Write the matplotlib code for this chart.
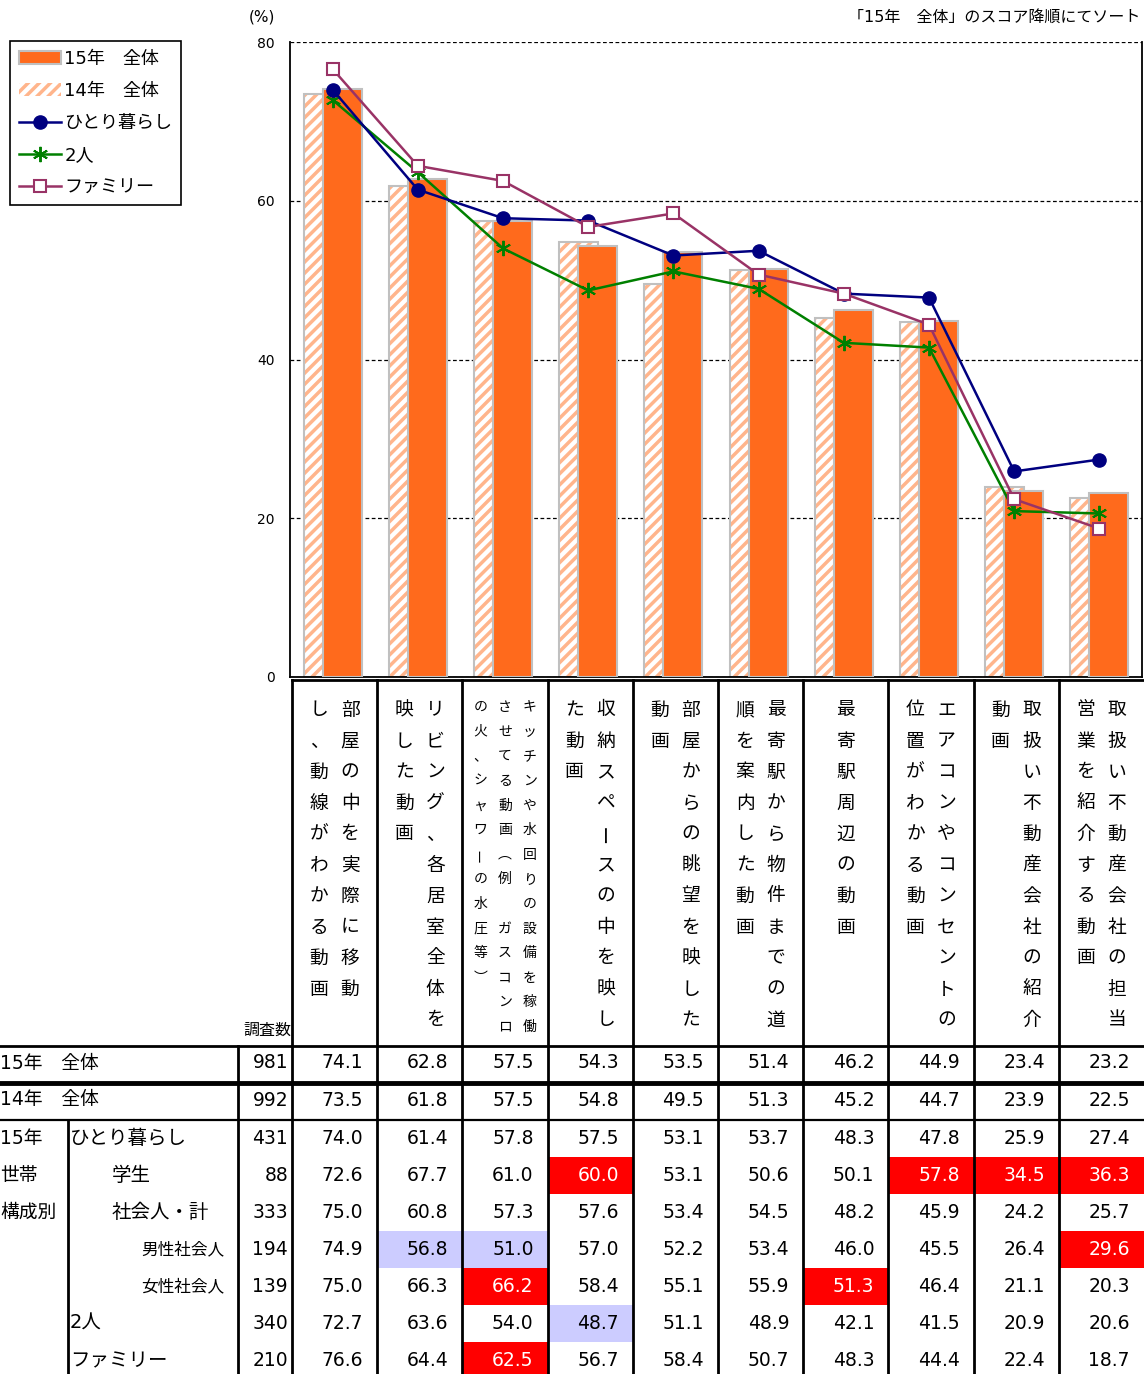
import numpy as np
import matplotlib
matplotlib.use('Agg')
import matplotlib.pyplot as plt
from matplotlib.patches import Rectangle

plt.rcParams['font.family'] = ['DejaVu Sans', 'Noto Sans CJK JP']
plt.rcParams['hatch.linewidth'] = 2.5

# categories (sorted by 15年 全体)
categories = [
    '部屋の中を実際に移動し、動線がわかる動画',
    'リビング、各居室全体を映した動画',
    'キッチンや水回りの設備を稼働させてる動画（例　ガスコンロの火、シャワーの水圧等）',
    '収納スペースの中を映した動画',
    '部屋からの眺望を映した動画',
    '最寄駅から物件までの道順を案内した動画',
    '最寄駅周辺の動画',
    'エアコンやコンセントの位置がわかる動画',
    '取扱い不動産会社の紹介動画',
    '取扱い不動産会社の担当営業を紹介する動画',
]
label_wrap = [10, 11, 14, 11, 11, 11, 11, 11, 11, 11]

all15 = [74.1, 62.8, 57.5, 54.3, 53.5, 51.4, 46.2, 44.9, 23.4, 23.2]
all14 = [73.5, 61.8, 57.5, 54.8, 49.5, 51.3, 45.2, 44.7, 23.9, 22.5]
single = [74.0, 61.4, 57.8, 57.5, 53.1, 53.7, 48.3, 47.8, 25.9, 27.4]
student = [72.6, 67.7, 61.0, 60.0, 53.1, 50.6, 50.1, 57.8, 34.5, 36.3]
worker = [75.0, 60.8, 57.3, 57.6, 53.4, 54.5, 48.2, 45.9, 24.2, 25.7]
male = [74.9, 56.8, 51.0, 57.0, 52.2, 53.4, 46.0, 45.5, 26.4, 29.6]
female = [75.0, 66.3, 66.2, 58.4, 55.1, 55.9, 51.3, 46.4, 21.1, 20.3]
couple = [72.7, 63.6, 54.0, 48.7, 51.1, 48.9, 42.1, 41.5, 20.9, 20.6]
family = [76.6, 64.4, 62.5, 56.7, 58.4, 50.7, 48.3, 44.4, 22.4, 18.7]

row_labels = ['15年　全体', '14年　全体', 'ひとり暮らし', '学生', '社会人・計',
              '男性社会人', '女性社会人', '2人', 'ファミリー']
row_counts = [981, 992, 431, 88, 333, 194, 139, 340, 210]
row_values = [all15, all14, single, student, worker, male, female, couple, family]
group_label = ['15年', '世帯', '構成別']

W, H = 1144, 1374
fig = plt.figure(figsize=(W / 100, H / 100), dpi=100)

# overlay in pixel coordinates for the table
tab = fig.add_axes([0, 0, 1, 1])
tab.set_xlim(0, W)
tab.set_ylim(H, 0)
tab.axis('off')

ax = fig.add_axes([290 / W, 1 - 677 / H, 852 / W, 635 / H])
x = np.arange(len(categories))
off, bw = 0.111, 0.458
b14 = ax.bar(x - off, all14, bw, color='white', edgecolor='#FFB58C', hatch='///',
             linewidth=0, zorder=2, label='14年　全体')
ax.bar(x - off, all14, bw, fill=False, edgecolor='#C0C0C0', linewidth=1.5, zorder=2)
b15 = ax.bar(x + off, all15, bw, color='#FF6A1C', edgecolor='#C0C0C0', linewidth=1.5,
             zorder=3, label='15年　全体')

l2, = ax.plot(x, couple, color='#008000', lw=1.8, marker=(6, 2, 0), ms=11, mew=1.4,
              zorder=4, label='2人')
l1, = ax.plot(x, single, color='#000080', lw=1.8, marker='o', ms=9.5,
              zorder=5, label='ひとり暮らし')
l3, = ax.plot(x, family, color='#993366', lw=1.8, marker='s', ms=9, mfc='white',
              mew=1.5, zorder=6, label='ファミリー')

ax.set_xlim(-0.5, 9.5)
ax.set_ylim(0, 80)
ax.set_yticks([0, 20, 40, 60, 80])
ax.set_xticks([])
ax.tick_params(axis='y', length=0, pad=11, labelsize=10)
ax.yaxis.grid(True, linestyle=(0, (3, 2)), color='black', lw=0.9)
ax.set_axisbelow(True)
ax.spines['top'].set_visible(False)
for s in ['left', 'right', 'bottom']:
    ax.spines[s].set_linewidth(1.3)

leg = ax.legend(handles=[b15, b14, l1, l2, l3], loc='upper left',
                bbox_to_anchor=(10 / W, 1 - 41 / H), bbox_transform=fig.transFigure,
                borderaxespad=0, fontsize=13, fancybox=False, edgecolor='black',
                framealpha=1, handlelength=2.3, handletextpad=0.2,
                labelspacing=0.78, borderpad=0.5)
leg.get_frame().set_linewidth(1.2)

tab.text(262, 17, '(%)', ha='center', va='center', fontsize=11)
tab.text(1140, 17, '「15年　全体」のスコア降順にてソート', ha='right', va='center',
         fontsize=11.5)

# vertical category labels
vert_forms = {'（': '︵', '）': '︶'}
rot_chars = {'ー': 90}
col_w = 85.2
col_edges = 292 + col_w * np.arange(11)
for i, (lab, nwrap) in enumerate(zip(categories, label_wrap)):
    cols = [lab[k:k + nwrap] for k in range(0, len(lab), nwrap)]
    small = len(cols) > 2
    fs = 10 if small else 13.5
    dx = 24.5 if small else 31
    dy = 24.6 if small else 31
    y0 = 707 if small else 710
    cx = col_edges[i] + col_w / 2
    for j, col in enumerate(cols):
        xc = cx + dx * ((len(cols) - 1) / 2 - j)
        for k, ch in enumerate(col):
            tab.text(xc, y0 + dy * k, vert_forms.get(ch, ch), ha='center', va='center',
                     fontsize=fs, rotation=rot_chars.get(ch, 0),
                     family='Noto Sans CJK JP')

tab.text(291, 1030, '調査数', ha='right', va='center', fontsize=11.5)

# table grid
for xe in col_edges[:-1]:
    tab.plot([xe, xe], [680, H], color='black', lw=2.0, zorder=2)
tab.plot([292, W], [680, 680], color='black', lw=2.0, zorder=2)
tab.plot([238, 238], [1046, H], color='black', lw=2.0, zorder=2)
tab.plot([68, 68], [1120, H], color='black', lw=2.0, zorder=2)
tab.plot([0, W], [1046, 1046], color='black', lw=2.0, zorder=2)
tab.plot([0, W], [1083, 1083], color='black', lw=3.5, zorder=2)
tab.plot([0, W], [1120, 1120], color='black', lw=1.6, zorder=2)

row_y = [1063, 1100] + [1138.5 + 37 * k for k in range(7)]
row_x = [0, 0, 70, 112, 112, 224, 224, 70, 70]
row_ha = ['left', 'left', 'left', 'left', 'left', 'right', 'right', 'left', 'left']
row_fs = [13.5, 13.5, 14, 14, 14, 12, 12, 14, 14]

for k, g in enumerate(group_label):
    tab.text(0, row_y[2 + k], g, ha='left', va='center', fontsize=13.5)

for r, (lab, n, vals) in enumerate(zip(row_labels, row_counts, row_values)):
    y = row_y[r]
    tab.text(row_x[r], y, lab, ha=row_ha[r], va='center', fontsize=row_fs[r])
    tab.text(288, y, str(n), ha='right', va='center', fontsize=13.5)
    for i, v in enumerate(vals):
        color = 'black'
        if r >= 2:
            d = round(v - all15[i], 1)
            top = 1120 + 37 * (r - 2)
            if d >= 5.0:
                tab.add_patch(Rectangle((col_edges[i], top), col_w, 37,
                                        color='#FF0000', zorder=1, lw=0))
                color = 'white'
            elif d <= -5.0:
                tab.add_patch(Rectangle((col_edges[i], top), col_w, 37,
                                        color='#CCCCFF', zorder=1, lw=0))
        tab.text(col_edges[i + 1] - 14, y, f'{v:.1f}', ha='right', va='center',
                 fontsize=13.5, color=color, zorder=3)

fig.savefig('out.png', dpi=100)
